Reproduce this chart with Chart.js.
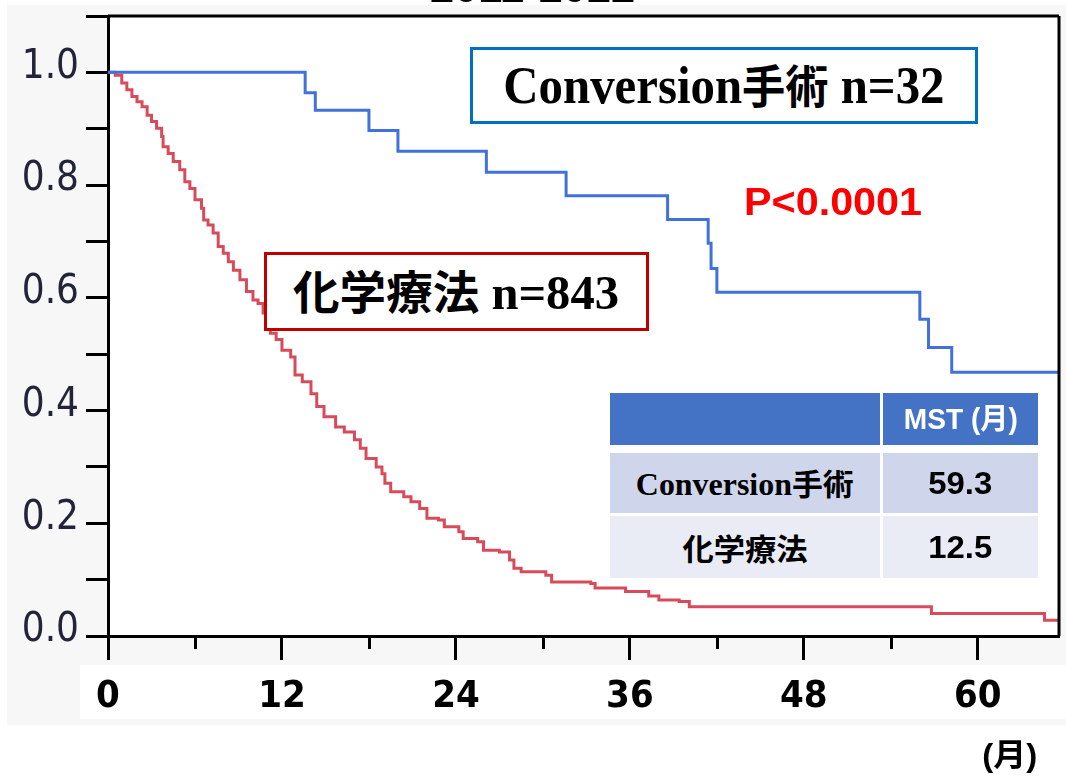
<!DOCTYPE html>
<html lang="ja">
<head>
<meta charset="utf-8">
<title>Conversion手術 vs 化学療法</title>
<script src="https://cdn.jsdelivr.net/npm/chart.js@4.4.1/dist/chart.umd.min.js"></script>
<style>
  html, body { margin: 0; padding: 0; background: #fff; }
  #wrap { position: relative; width: 1066px; height: 776px; overflow: hidden; background: #fff; }
  #bg { position: absolute; left: 7px; top: 5px; width: 1059px; height: 720px; background: #f7f7f7; }
  #strip { position: absolute; left: 80px; top: 665px; width: 986px; height: 54px; background: #fff; }
  #km { position: absolute; left: 0; top: 0; }
  .ov { position: absolute; display: flex; align-items: center; justify-content: center; box-sizing: border-box; }
  .ov > span { display: inline-block; white-space: nowrap; line-height: 1; transform-origin: center; }
  .serif { font-family: 'Liberation Serif', 'Noto Sans CJK JP', serif; font-weight: 700; color: #000; }
  .sans { font-family: 'Liberation Sans', 'Noto Sans CJK JP', sans-serif; font-weight: 700; }
  .cjk { font-family: 'Noto Sans CJK JP', sans-serif; font-weight: 700; }
</style>
</head>
<body>
<div id="wrap">
  <div id="bg"></div>
  <div id="strip"></div>
  <canvas id="km" width="1066" height="776"></canvas>

  <div class="ov sans" style="left:400px; top:-35px; width:266px; height:44px; align-items:flex-end;"><span data-w="205" style="font-size:43px;">2011-2022</span></div>

  <div class="ov serif" style="left:470px; top:47px; width:508px; height:77px; border:3px solid #0070C0; background:#fff;">
    <span data-w="441" style="font-size:52px;">Conversion<span class="cjk" style="font-size:46px;">手術</span> n=32</span>
  </div>

  <div class="ov serif" style="left:264px; top:252px; width:385px; height:79px; border:3px solid #C00000; background:#fff;">
    <span data-w="326" style="font-size:48px;"><span class="cjk" style="font-size:46px;">化学療法</span> n=843</span>
  </div>

  <div class="ov sans" style="left:730px; top:180px; width:206px; height:42px; color:#ff0000;"><span data-w="178" style="font-size:39px;">P&lt;0.0001</span></div>

  <div class="ov" style="left:610px; top:393px; width:270px; height:52px; background:#4472C4;"></div>
  <div class="ov sans" style="left:883px; top:393px; width:155px; height:52px; background:#4472C4; color:#fff;"><span data-w="114" style="font-size:29px;">MST (月)</span></div>
  <div class="ov serif" style="left:610px; top:453px; width:270px; height:60px; background:#CFD5EA;"><span data-w="218" style="font-size:31px;">Conversion<span class="cjk" style="font-size:30px;">手術</span></span></div>
  <div class="ov sans" style="left:883px; top:453px; width:155px; height:60px; background:#CFD5EA; color:#000;"><span data-w="64" style="font-size:31px;">59.3</span></div>
  <div class="ov cjk" style="left:610px; top:516px; width:270px; height:62px; background:#E9EBF5; color:#000;"><span data-w="125" style="font-size:30px;">化学療法</span></div>
  <div class="ov sans" style="left:883px; top:516px; width:155px; height:62px; background:#E9EBF5; color:#000;"><span data-w="64" style="font-size:31px;">12.5</span></div>

  <div class="ov sans" style="left:975px; top:738px; width:70px; height:34px; color:#000;"><span data-w="55" style="font-size:32px;">(月)</span></div>
</div>

<script>
// ── DATA ──
const conversionMonths = [0, 13.6, 14.3, 18.0, 20.0, 26.1, 31.6, 38.6, 41.4, 41.6, 42.0, 56.0, 56.6, 58.2, 65.6];
const conversionSurv   = [1.0, 0.964, 0.933, 0.897, 0.860, 0.823, 0.781, 0.739, 0.697, 0.652, 0.610, 0.562, 0.512, 0.468, 0.468];

const chemoMonths = [0, 0.5, 0.95, 1.3, 1.65, 2.0, 2.35, 2.7, 3.0, 3.35, 3.7, 3.8, 4.15, 4.5, 4.95, 5.3, 5.65, 6.0, 6.45, 6.6,
  6.9, 7.25, 7.6, 7.95, 8.3, 8.65, 9.1, 9.55, 10.0, 10.35, 10.7, 10.9, 11.2, 11.6, 12.0, 12.6, 12.9, 13.4, 14.0, 14.4,
  14.9, 15.7, 16.3, 17.0, 17.4, 17.8, 18.5, 18.9, 19.1, 19.5, 20.4, 20.9, 21.5, 22.0, 22.8, 23.2, 24.2, 24.5, 25.5, 25.9,
  27.0, 27.7, 28.0, 28.5, 30.2, 30.6, 33.3, 33.6, 35.7, 37.3, 38.0, 39.4, 40.1, 56.8, 64.6, 65.6];
const chemoSurv = [1.0, 0.995, 0.981, 0.969, 0.957, 0.948, 0.939, 0.924, 0.913, 0.901, 0.886, 0.868, 0.856, 0.842, 0.827, 0.806, 0.794, 0.774, 0.759, 0.738,
  0.729, 0.715, 0.691, 0.679, 0.664, 0.649, 0.632, 0.611, 0.596, 0.590, 0.573, 0.556, 0.537, 0.526, 0.507, 0.495, 0.463, 0.451, 0.430, 0.407,
  0.389, 0.371, 0.362, 0.348, 0.333, 0.315, 0.300, 0.288, 0.271, 0.256, 0.247, 0.238, 0.226, 0.209, 0.206, 0.194, 0.185, 0.173, 0.167, 0.152,
  0.149, 0.135, 0.120, 0.114, 0.108, 0.096, 0.093, 0.085, 0.079, 0.071, 0.064, 0.061, 0.052, 0.040, 0.028, 0.028];

const xLabelTicks = [0, 12, 24, 36, 48, 60];
const yLabelTicks = [0, 0.2, 0.4, 0.6, 0.8, 1.0];

const COLORS = { conversion: '#4171DB', chemo: '#D74B5B', axis: '#000' };

const toPoints = (xs, ys) => xs.map((x, i) => ({ x, y: ys[i] }));
const isIn = (list, v) => list.some(t => Math.abs(t - v) < 1e-6);

// plot background, frame and minor x ticks
const framePlugin = {
  id: 'frame',
  beforeDraw(chart) {
    const { ctx, chartArea: a } = chart;
    ctx.save();
    ctx.fillStyle = '#fff';
    ctx.fillRect(a.left, a.top, a.right - a.left, a.bottom - a.top);
    ctx.restore();
  },
  afterDraw(chart) {
    const { ctx, chartArea: a } = chart;
    const xs = chart.scales.x;
    ctx.save();
    ctx.strokeStyle = COLORS.axis;
    ctx.lineWidth = 3;
    ctx.beginPath();
    ctx.moveTo(a.left, a.top);
    ctx.lineTo(a.right, a.top);
    ctx.moveTo(a.right, a.top);
    ctx.lineTo(a.right, a.bottom);
    xs.ticks.forEach(t => {
      if (isIn(xLabelTicks, t.value)) return;
      const px = Math.round(xs.getPixelForValue(t.value)) + 0.5;
      ctx.moveTo(px, a.bottom);
      ctx.lineTo(px, a.bottom + 13);
    });
    ctx.stroke();
    ctx.restore();
  }
};

new Chart(document.getElementById('km'), {
  type: 'scatter',
  data: {
    datasets: [
      { label: 'Conversion手術', data: toPoints(conversionMonths, conversionSurv), showLine: true, stepped: 'before',
        borderColor: COLORS.conversion, borderWidth: 3, pointRadius: 0, fill: false },
      { label: '化学療法', data: toPoints(chemoMonths, chemoSurv), showLine: true, stepped: 'before',
        borderColor: COLORS.chemo, borderWidth: 3, pointRadius: 0, fill: false }
    ]
  },
  options: {
    responsive: false, animation: false, devicePixelRatio: 1,
    layout: { padding: { left: 0, right: 7, top: 16, bottom: 0 } },
    plugins: { legend: { display: false }, tooltip: { enabled: false } },
    scales: {
      x: {
        type: 'linear', min: 0, max: 65.6,
        border: { display: true, color: COLORS.axis, width: 3 },
        grid: { drawOnChartArea: false, drawTicks: true, tickLength: 24, tickWidth: 3,
                tickColor: c => (c.tick && isIn(xLabelTicks, c.tick.value)) ? COLORS.axis : 'rgba(0,0,0,0)' },
        ticks: { stepSize: 6, includeBounds: false, maxRotation: 0, autoSkip: false, padding: 14, color: '#000',
                 font: { family: "'Liberation Sans Narrow', 'DejaVu Sans Condensed', sans-serif", size: 38, weight: 'bold' },
                 callback: v => isIn(xLabelTicks, v) ? String(v) : '' },
        afterFit: s => { s.height = 140; s.paddingLeft = 0; s.paddingRight = 0; }
      },
      y: {
        type: 'linear', min: 0, max: 1.1,
        border: { display: true, color: COLORS.axis, width: 3 },
        grid: { drawOnChartArea: false, drawTicks: true, tickLength: 22, tickWidth: 3, tickColor: COLORS.axis },
        ticks: { stepSize: 0.1, includeBounds: false, autoSkip: false, padding: 7, labelOffset: -5, color: '#23233a',
                 font: { family: "'Liberation Sans Narrow', 'DejaVu Sans Condensed', sans-serif", size: 40 },
                 callback: v => isIn(yLabelTicks, v) ? v.toFixed(1) : '' },
        afterFit: s => { s.width = 108; s.paddingTop = 0; s.paddingBottom = 0; }
      }
    }
  },
  plugins: [framePlugin]
});

// squeeze annotation texts to the widths seen in the figure
document.querySelectorAll('[data-w]').forEach(el => {
  const w = el.getBoundingClientRect().width;
  if (w > 0) el.style.transform = `scaleX(${(+el.dataset.w / w).toFixed(3)})`;
});
</script>
</body>
</html>
